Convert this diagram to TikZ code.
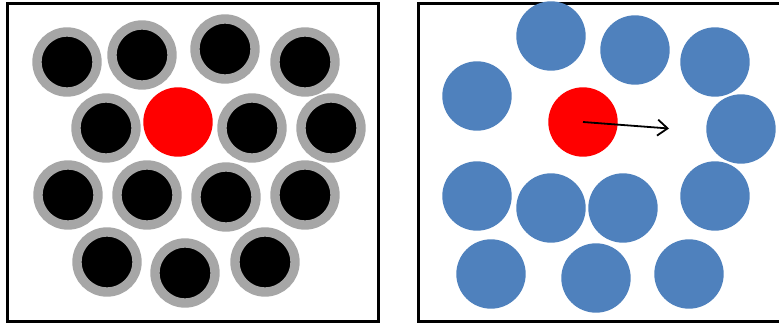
\documentclass[tikz,border=0pt]{standalone}
\usepackage{tikz}
\usetikzlibrary{arrows.meta}
\usepackage{xcolor}
\definecolor{shell}{HTML}{A6A6A6}
\definecolor{ion}{HTML}{4F81BD}
\definecolor{probe}{HTML}{FF0000}

\begin{document}
\begin{tikzpicture}[x=1pt,y=-1pt,
    every node/.style={circle,inner sep=0pt,outer sep=0pt},
    solvated/.style={fill=black,draw=shell,line width=9.4pt,minimum size=60pt},
    bare/.style={fill=ion,minimum size=69.4pt},
    tracer/.style={fill=probe,minimum size=69.4pt}]
    \useasboundingbox (0,0) rectangle (779,326);
    \clip (0,0) rectangle (779,326);
    % left panel: solvated
    \draw[line width=3pt] (7.5,3.5) rectangle (378.5,321);
    \node[solvated] (s1) at (67,62) {};
    \node[solvated] (s2) at (142,55) {};
    \node[solvated] (s3) at (225,49) {};
    \node[solvated] (s4) at (305,62) {};
    \node[solvated] (s5) at (106,128) {};
    \node[tracer] (redA) at (178,122) {};
    \node[solvated] (s6) at (252,128) {};
    \node[solvated] (s7) at (331,128) {};
    \node[solvated] (s8) at (68,195) {};
    \node[solvated] (s9) at (147,195) {};
    \node[solvated] (s10) at (226,197) {};
    \node[solvated] (s11) at (305,195) {};
    \node[solvated] (s12) at (107,262) {};
    \node[solvated] (s13) at (185,273) {};
    \node[solvated] (s14) at (265,262) {};
    % right panel: bare
    \draw[line width=3pt] (790,3.5) -- (418.5,3.5) -- (418.5,321) -- (790,321);
    \node[bare] (b1) at (551,36) {};
    \node[bare] (b2) at (635,50) {};
    \node[bare] (b3) at (715,62) {};
    \node[bare] (b4) at (477,96) {};
    \node[tracer] (redB) at (583,122) {};
    \node[bare] (b5) at (741,129) {};
    \node[bare] (b6) at (477,196) {};
    \node[bare] (b7) at (551,208) {};
    \node[bare] (b8) at (623,208) {};
    \node[bare] (b9) at (715,196) {};
    \node[bare] (b10) at (491,274) {};
    \node[bare] (b11) at (596,278) {};
    \node[bare] (b12) at (689,274) {};
    \coordinate (jump) at (669,128.5);
    \draw[line width=1.8pt,-{Straight Barb[length=10pt,width=16pt]}] (redB.center) -- (jump);
\end{tikzpicture}
\end{document}
